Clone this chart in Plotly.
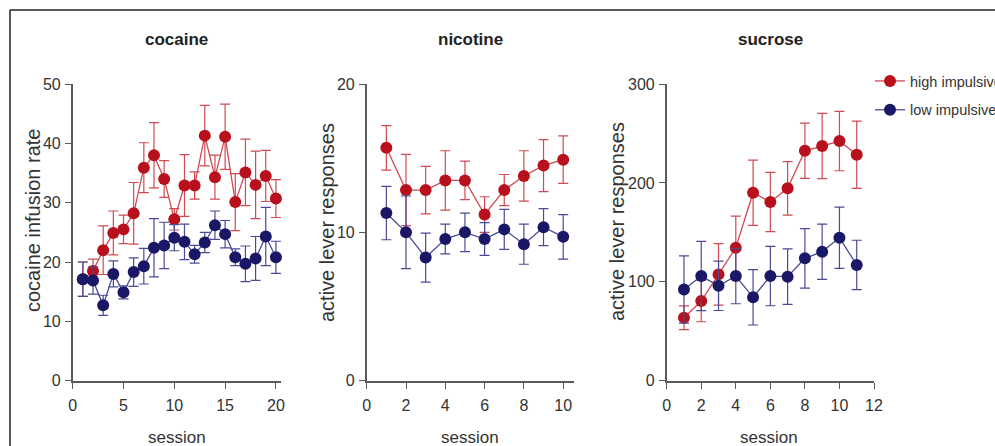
import plotly.graph_objects as go

# ---------------- data ----------------
coc_sessions = list(range(1, 21))
coc_high = [17.1, 18.5, 22.0, 24.9, 25.5, 28.2, 35.9, 38.0, 34.0, 27.2, 32.9, 32.9, 41.3, 34.3, 41.1, 30.1, 35.1, 33.0, 34.5, 30.7]
coc_high_err = [2.9, 2.0, 4.1, 3.7, 2.4, 5.2, 4.2, 5.5, 3.1, 1.8, 5.2, 2.3, 5.1, 3.7, 5.5, 4.8, 5.6, 5.7, 4.3, 3.2]
coc_low = [17.1, 16.9, 12.7, 18.0, 14.9, 18.3, 19.3, 22.4, 22.8, 24.1, 23.4, 21.3, 23.3, 26.2, 24.7, 20.8, 19.7, 20.6, 24.3, 20.8]
coc_low_err = [2.9, 2.3, 1.7, 2.2, 1.1, 2.4, 3.0, 4.9, 3.9, 2.2, 3.0, 1.5, 1.7, 2.4, 2.3, 1.4, 3.0, 3.7, 4.9, 2.7]

nic_sessions = list(range(1, 11))
nic_high = [15.7, 12.85, 12.85, 13.5, 13.5, 11.2, 12.85, 13.8, 14.5, 14.9]
nic_high_err = [1.5, 2.4, 1.6, 2.0, 1.3, 1.2, 1.05, 1.7, 1.75, 1.6]
nic_low = [11.3, 10.0, 8.3, 9.55, 10.0, 9.55, 10.2, 9.2, 10.35, 9.7]
nic_low_err = [1.8, 2.45, 1.65, 1.0, 1.3, 1.1, 1.35, 1.35, 1.25, 1.5]

suc_sessions = list(range(1, 12))
suc_high = [63.7, 80.6, 107.5, 134.5, 190.0, 180.7, 194.5, 232.5, 237.3, 242.3, 228.5]
suc_high_err = [12, 21, 31, 32, 33, 30, 27, 28, 33, 30, 34]
suc_low = [92.3, 105.8, 96.0, 105.8, 84.3, 105.8, 105.2, 123.7, 130.4, 144.6, 117.0]
suc_low_err = [34, 35, 25, 28, 28, 30, 28, 30, 28, 31, 25]

panel_titles = ["cocaine", "nicotine", "sucrose"]
y_titles = ["cocaine infusion rate", "active lever responses", "active lever responses"]
x_title = "session"
series_names = ["high impulsive", "low impulsive"]

x_ticks = [[0, 5, 10, 15, 20], [0, 2, 4, 6, 8, 10], [0, 2, 4, 6, 8, 10, 12]]
y_ticks = [[0, 10, 20, 30, 40, 50], [0, 10, 20], [0, 100, 200, 300]]
x_ranges = [[0, 20.5], [0, 10.55], [0, 12]]
y_ranges = [[0, 50], [0, 20], [0, 300]]

# ---------------- styling ----------------
W, H = 995, 446
RED_M, RED_L = "#b8101c", "#cf4a52"
BLUE_M, BLUE_L = "#1a1866", "#4a4a96"
AX = "#5a5a5a"
TXT = "#333333"
FONT = "Liberation Sans, Arial, sans-serif"

def px_x(p):
    return p / W

def px_y(p):
    return (H - p) / H

x_domains = [[px_x(72.7), px_x(281)], [px_x(366.7), px_x(574)], [px_x(666.7), px_x(874)]]
y_domain = [px_y(380.7), px_y(84)]
title_cx = [176, 470, 770]
ytitle_pos = [(33, 221), (327, 223), (617, 222)]
xtitle_cx = [177, 470, 769]

fig = go.Figure()

panels = [
    (coc_sessions, coc_high, coc_high_err, coc_low, coc_low_err),
    (nic_sessions, nic_high, nic_high_err, nic_low, nic_low_err),
    (suc_sessions, suc_high, suc_high_err, suc_low, suc_low_err),
]

for i, (xs, hi, hie, lo, loe) in enumerate(panels):
    xa = "x" if i == 0 else f"x{i+1}"
    ya = "y" if i == 0 else f"y{i+1}"
    for name, ys, es, mc, lc in [
        (series_names[0], hi, hie, RED_M, RED_L),
        (series_names[1], lo, loe, BLUE_M, BLUE_L),
    ]:
        fig.add_trace(go.Scatter(
            x=xs, y=ys, name=name, mode="lines+markers",
            xaxis=xa, yaxis=ya,
            line=dict(color=lc, width=1.3),
            marker=dict(color=mc, size=12, line=dict(width=0)),
            error_y=dict(type="data", array=es, visible=True, color=lc, thickness=1.2, width=5),
            showlegend=(i == 2),
            legendgroup=name,
            cliponaxis=False,
        ))

layout_axes = {}
for i in range(3):
    xk = "xaxis" if i == 0 else f"xaxis{i+1}"
    yk = "yaxis" if i == 0 else f"yaxis{i+1}"
    ya_ref = "y" if i == 0 else f"y{i+1}"
    xa_ref = "x" if i == 0 else f"x{i+1}"
    common = dict(
        automargin=False, tickmode="array",
        showline=True, linecolor=AX, linewidth=1.6,
        ticks="outside", ticklen=6, tickwidth=1.4, tickcolor=AX,
        showgrid=False, zeroline=False,
        tickfont=dict(family=FONT, size=16, color=TXT),
    )
    layout_axes[xk] = dict(domain=x_domains[i], range=x_ranges[i], anchor=ya_ref,
                           tickvals=x_ticks[i], ticklabelstandoff=3, **common)
    layout_axes[yk] = dict(domain=y_domain, range=y_ranges[i], anchor=xa_ref,
                           tickvals=y_ticks[i], ticklabelstandoff=1, **common)

annotations = []
for t, c in zip(panel_titles, title_cx):
    annotations.append(dict(
        text=f"<b>{t}</b>", x=px_x(c), y=px_y(39), xref="paper", yref="paper",
        showarrow=False, xanchor="center", yanchor="middle",
        font=dict(family=FONT, size=17, color="#222222"),
    ))
for t, (cx, cy) in zip(y_titles, ytitle_pos):
    annotations.append(dict(
        text=t, x=px_x(cx), y=px_y(cy), xref="paper", yref="paper", textangle=-90,
        showarrow=False, xanchor="center", yanchor="middle",
        font=dict(family=FONT, size=20, color=TXT),
    ))
for cx in xtitle_cx:
    annotations.append(dict(
        text=x_title, x=px_x(cx), y=px_y(437), xref="paper", yref="paper",
        showarrow=False, xanchor="center", yanchor="middle",
        font=dict(family=FONT, size=17, color=TXT),
    ))

shapes = [
    dict(type="line", xref="paper", yref="paper", x0=px_x(10), x1=1.0, y0=px_y(10), y1=px_y(10),
         line=dict(color="#222222", width=1.5)),
    dict(type="line", xref="paper", yref="paper", x0=px_x(10), x1=px_x(10), y0=px_y(10), y1=0,
         line=dict(color="#222222", width=1.5)),
]

fig.update_layout(
    template="none",
    width=W, height=H, autosize=False,
    margin=dict(l=0, r=0, t=0, b=0, pad=0, autoexpand=False),
    paper_bgcolor="white", plot_bgcolor="white",
    annotations=annotations, shapes=shapes,
    legend=dict(
        x=px_x(870), y=px_y(65), xanchor="left", yanchor="top",
        font=dict(family=FONT, size=14.5, color=TXT),
        tracegroupgap=7, bgcolor="rgba(0,0,0,0)", itemwidth=30,
    ),
    **layout_axes,
)

post_js = """
document.documentElement.style.margin='0';
document.documentElement.style.padding='0';
document.documentElement.style.overflow='hidden';
document.body.style.margin='0';
document.body.style.padding='0';
document.body.style.overflow='hidden';
"""

fig.write_html("out.html", config={"responsive": False, "displayModeBar": False}, post_script=post_js)
